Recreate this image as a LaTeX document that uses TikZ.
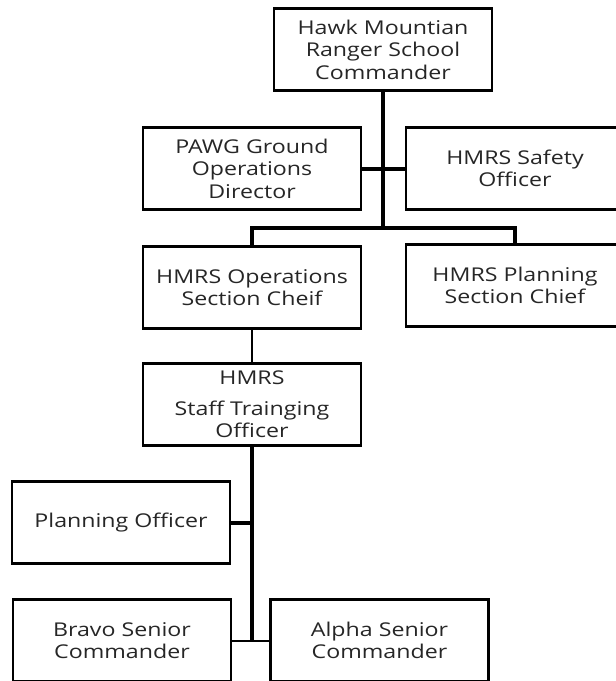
\documentclass[tikz,border=0pt]{standalone}
\usepackage{fontspec}
\setmainfont{Open Sans}[FakeStretch=1.22]
\begin{document}
\begin{tikzpicture}[x=1pt,y=-1pt,
  box/.style={draw,line width=2.8pt,minimum width=218pt,minimum height=82pt,
    align=center,inner sep=0pt,text=black!85,
    font=\fontsize{19}{22.5}\selectfont},
  trunk/.style={line width=4pt},
  link/.style={line width=2pt}]
\useasboundingbox (0,0) rectangle (616,681);
\clip (0,0) rectangle (616,681);

% Commander
\node[box] (top) at (383,49.5) {Hawk Mountian\\Ranger School\\Commander};

% Staff beside the commander
\node[box] (pawg) at (252,168.5) {PAWG Ground\\Operations\\Director};
\node[box] (safety) at (515,168.5) {HMRS Safety\\Officer};

% Section chiefs
\node[box] (ops) at (252,287.5) {HMRS Operations\\Section Cheif};
\node[box] (plansec) at (515,285.5) {HMRS Planning\\Section Chief};

% Training officer
\node[box] (staff) at (252,404.5) {HMRS\\[8pt]Staff Trainging\\Officer};

% Lower level
\node[box] (planoff) at (121,522.5) {Planning Officer};
\node[box] (bravo) at (122,640.5) {Bravo Senior\\Commander};
\node[box] (alpha) at (379.5,640.5) {Alpha Senior\\Commander};

% Connectors
\coordinate (bar) at (384,228);
\draw[trunk] (top.south) -- (top.south |- bar);
\draw[trunk] (pawg.east) -- (safety.west);
\draw[trunk] (ops.north) |- (bar) -| (plansec.north);
\draw[link] (ops.south) -- (staff.north);
\draw[trunk] (staff.south) -- (staff.south |- bravo.east);
\draw[trunk] (planoff.east) -- (planoff.east -| staff.south);
\draw[link] (bravo.east) -- (alpha.west);
\end{tikzpicture}
\end{document}
